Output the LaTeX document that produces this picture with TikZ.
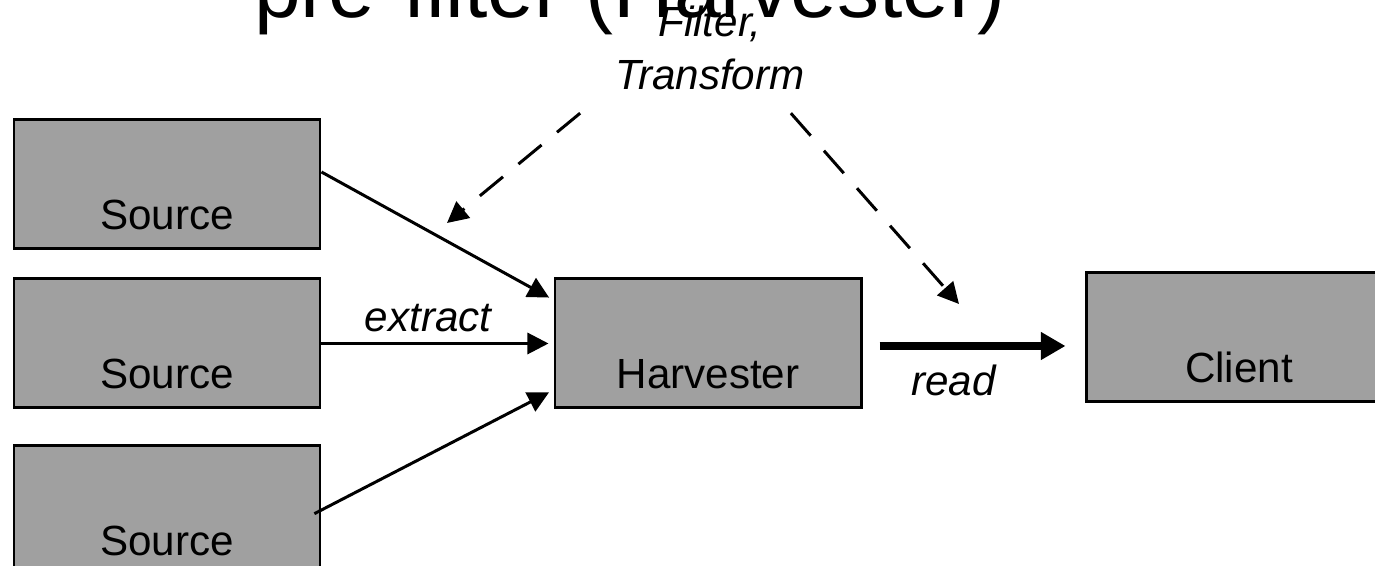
\documentclass[tikz,border=0pt]{standalone}
\usepackage{fontspec}
\setmainfont{Liberation Sans}
\usepackage{tikz}
\usetikzlibrary{arrows.meta, positioning, calc}
\definecolor{boxgray}{HTML}{A0A0A0}

\begin{document}
\begin{tikzpicture}[
    box/.style={draw, line width=1.7pt, fill=boxgray, inner sep=0pt,
      text width=6.12cm, align=center, text height=2.2cm, text depth=0.38cm,
      font=\fontsize{24}{28}\selectfont},
    flow/.style={-{Triangle[length=12pt, width=12pt]}, line width=1.7pt},
    lbl/.style={inner sep=0pt, font=\fontsize{24}{30}\selectfont\itshape}
  ]
  \useasboundingbox (0,0) rectangle (27.5,11.32);

  % Title (cut by the top edge)
  \node[anchor=base, font=\fontsize{47.8}{50}\selectfont] (title) at (12.6,10.96) {pre-filter (Harvester)};

  % Sources
  \node[box] (src1) at (3.34,7.63) {Source};
  \node[box] (src2) at (3.34,4.45) {Source};
  \node[box] (src3) at (3.34,1.12) {Source};

  % Harvester and client
  \node[box] (harv) at (14.16,4.45) {Harvester};
  \node[box] (client) at (24.78,4.57) {Client};

  % Extract arrows
  \draw[flow, shorten >=0.1cm] ([yshift=0.25cm]src1.east) -- ([yshift=0.87cm]harv.west);
  \draw[flow, shorten >=0.1cm] (src2.east) -- (harv.west)
    node[lbl, pos=0.46, above=5.7pt] (extract) {extract};
  \draw[flow, shorten <=-0.16cm, shorten >=0.1cm] (src3.east) -- ([yshift=-0.93cm]harv.west);

  % Read arrow
  \draw[-{Triangle[length=14pt, width=15pt]}, line width=4pt, shorten <=0.34cm, shorten >=0.38cm]
    ([yshift=-0.05cm]harv.east) -- ([yshift=-0.05cm]harv.east -| client.west)
    node[lbl, pos=0.41, below=8.5pt] (read) {read};

  % Filter / transform
  \node[lbl, align=center] (filt) at (14.2,10.36) {Filter,\\Transform};
  \coordinate (filtl) at (8.94,6.86);
  \coordinate (filtr) at (19.18,5.24);
  \draw[flow, dash pattern=on 0.6cm off 0.4cm] ([shift={(-0.7,-0.46)}]filt.south west) -- (filtl);
  \draw[flow, dash pattern=on 0.6cm off 0.4cm] ([shift={(-0.28,-0.46)}]filt.south east) -- (filtr);
\end{tikzpicture}
\end{document}
